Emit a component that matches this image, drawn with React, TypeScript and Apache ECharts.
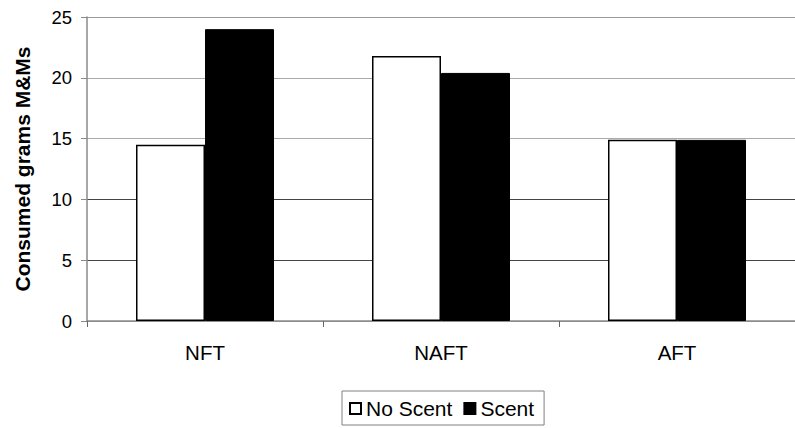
import React, { useEffect, useRef } from "react";
import * as echarts from "echarts";

const categories = ["NFT", "NAFT", "AFT"];
const noScent = [14.5, 21.8, 14.9];
const scent = [24.0, 20.4, 14.9];
const seriesNames = ["No Scent", "Scent"];
const yTicks = { min: 0, max: 25, interval: 5 };
const yAxisTitle = "Consumed grams M&Ms";

const FONT = "'Liberation Sans', Arial, sans-serif";

export default function App() {
  const ref = useRef<HTMLDivElement>(null);
  useEffect(() => {
    if (!ref.current) return;
    const chart = echarts.init(ref.current, null, { renderer: "svg" });
    chart.setOption({
      animation: false,
      backgroundColor: "#ffffff",
      textStyle: { fontFamily: FONT },
      grid: { left: 87, top: 17, bottom: 107, right: -12, containLabel: false },
      legend: {
        data: seriesNames,
        left: 342,
        top: 391,
        orient: "horizontal",
        icon: "rect",
        itemWidth: 11,
        itemHeight: 11,
        itemGap: 11,
        padding: [7, 10, 6, 7],
        borderColor: "#808080",
        borderWidth: 1,
        textStyle: { fontFamily: FONT, fontSize: 21, color: "#000" },
      },
      xAxis: {
        type: "category",
        data: categories,
        axisLine: { show: true, lineStyle: { color: "#8a8a8a", width: 1.5 } },
        axisTick: { show: true, length: 6, lineStyle: { color: "#666" } },
        axisLabel: { fontFamily: FONT, fontSize: 20.5, color: "#000", margin: 21 },
        splitLine: { show: false },
      },
      yAxis: {
        type: "value",
        min: yTicks.min,
        max: yTicks.max,
        interval: yTicks.interval,
        name: yAxisTitle,
        nameLocation: "middle",
        nameGap: 54,
        nameTextStyle: { fontFamily: FONT, fontSize: 21, fontWeight: "bold", color: "#000" },
        axisLine: { show: true, lineStyle: { color: "#8a8a8a", width: 1.5 } },
        axisTick: { show: true, length: 6, lineStyle: { color: "#8a8a8a" } },
        axisLabel: { fontFamily: FONT, fontSize: 18.5, color: "#000", margin: 15 },
        splitLine: {
          show: true,
          lineStyle: { color: ["#999", "#444", "#444", "#aaa", "#aaa", "#999"], width: 1.2 },
        },
      },
      series: [
        {
          name: seriesNames[0],
          type: "bar",
          data: noScent,
          barWidth: 69,
          barGap: "0%",
          itemStyle: { color: "#ffffff", borderColor: "#000", borderWidth: 1.5 },
        },
        {
          name: seriesNames[1],
          type: "bar",
          data: scent,
          barWidth: 69,
          barGap: "0%",
          itemStyle: { color: "#000000", borderColor: "#000", borderWidth: 1 },
        },
      ],
    });
    return () => chart.dispose();
  }, []);
  return (
    <div
      ref={ref}
      style={{ position: "fixed", left: 0, top: 0, width: 795, height: 428, background: "#fff" }}
    />
  );
}
